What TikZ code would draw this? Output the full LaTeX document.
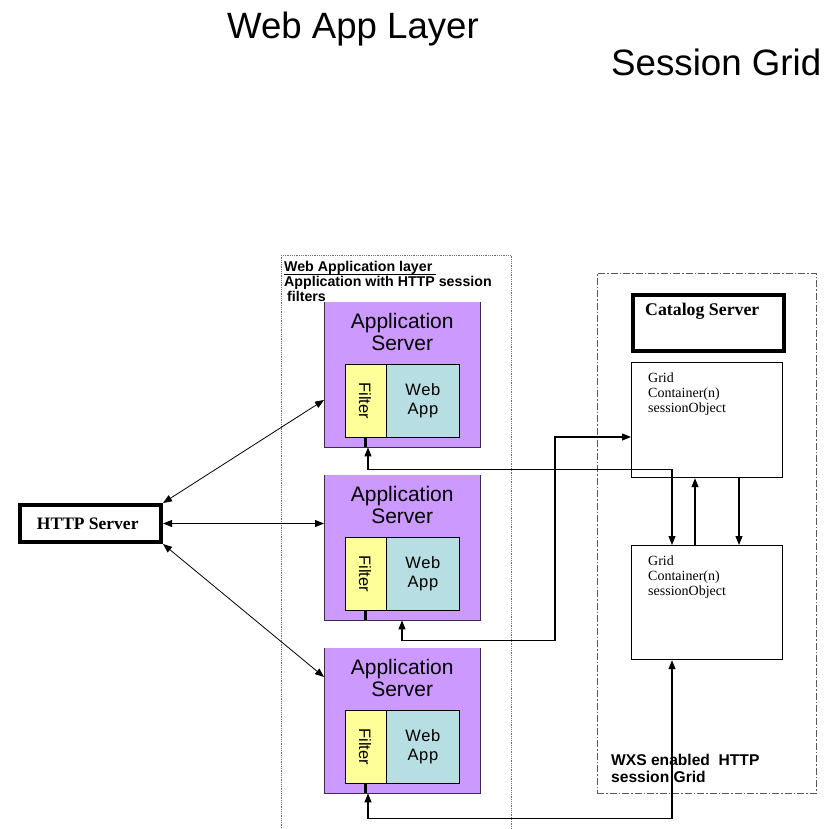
\documentclass[tikz,border=0pt]{standalone}
\usepackage{fontspec}
\setmainfont{Liberation Serif}
\newfontfamily\arial{Liberation Sans}
\usetikzlibrary{arrows.meta,calc}
\definecolor{srvpurple}{RGB}{204,153,255}
\definecolor{srvedge}{RGB}{60,40,80}
\definecolor{filteryellow}{RGB}{255,255,153}
\definecolor{appteal}{RGB}{183,222,226}
\definecolor{zonegray}{RGB}{110,110,110}
\begin{document}
\begin{tikzpicture}[x=1pt,y=-1pt,
  tip/.tip={Triangle[length=9pt,width=7pt]},
  layerbox/.style={draw=zonegray, line width=0.8pt, dash pattern=on 0.9pt off 0.9pt,
    anchor=north west, inner sep=0},
  gridzone/.style={draw=zonegray!80!black, line width=0.9pt,
    dash pattern=on 7pt off 2pt on 1.5pt off 2pt, anchor=north west, inner sep=0},
  srvbox/.style={fill=srvpurple, minimum width=156pt, minimum height=145pt,
    inner sep=0, anchor=north west},
  srvtext/.style={font=\arial\fontsize{21}{22.5}\selectfont, align=center,
    inner sep=0, anchor=north},
  filterbox/.style={draw, fill=filteryellow, line width=0.8pt, minimum width=41pt,
    minimum height=73pt, inner sep=0, anchor=north west},
  webbox/.style={draw, fill=appteal, line width=0.8pt, minimum width=73pt,
    minimum height=73pt, inner sep=0, anchor=north west,
    font=\arial\fontsize{16.5}{19}\selectfont\addfontfeature{LetterSpace=4}, align=center},
  filtertext/.style={font=\arial\fontsize{16.5}{18}\selectfont, rotate=-90, inner sep=0},
  stub/.style={line width=3pt},
  thickbox/.style={draw, line width=4pt, inner sep=0},
  gridbox/.style={draw, line width=1.2pt, minimum width=151pt, inner sep=0,
    anchor=north west},
  gridtext/.style={font=\fontsize{14}{15.2}\selectfont, align=left, inner sep=0,
    anchor=north west},
  twoway/.style={line width=0.8pt, {tip}-{tip}},
  link/.style={line width=1.1pt, {tip}-{tip}},
  oneway/.style={line width=1.1pt, -{tip}}]

\useasboundingbox (0,0) rectangle (832,828);

% headings
\node[anchor=base west, inner sep=0, font=\arial\fontsize{36.6}{40}\selectfont]
  (head1) at (227,38) {Web App Layer};
\node[anchor=base west, inner sep=0, font=\arial\fontsize{36.7}{40}\selectfont]
  (head2) at (611,75) {Session Grid};

% zones
\node[layerbox, minimum width=230pt, minimum height=590pt] (wl) at (281,255) {};
\node[anchor=north west, inner sep=0, align=left,
  font=\arial\bfseries\fontsize{14.2}{15}\selectfont] (wltext) at (284,261.5)
  {Web Application layer\\Application with HTTP session\\\hspace*{3pt}filters};
\draw[line width=0.9pt] ($(wltext.north west)+(0,13)$) -- ++(152,0);

\node[gridzone, minimum width=219pt, minimum height=520pt] (sg) at (597,273) {};
\node[anchor=north west, inner sep=0, align=left,
  font=\arial\bfseries\fontsize{15.6}{16.7}\selectfont] (sgtext) at (611,754)
  {WXS enabled\ \ HTTP\\session Grid};

% HTTP server
\node[thickbox, minimum width=141.5pt, minimum height=37pt,
  font=\bfseries\fontsize{17.5}{20}\selectfont] (h) at (90.25,523.5)
  {\hspace*{-5pt}HTTP Server};

% application servers
\foreach \i/\y in {1/302,2/475,3/648}{
  \node[srvbox] (s\i) at (324,\y) {};
  \draw[srvedge, line width=0.8pt] (s\i.north west) -- (s\i.south west)
    -- (s\i.south east) -- (s\i.north east);
  \node[srvtext] (st\i) at ($(s\i.north)+(0,10.7)$) {Application\\Server};
  \node[filterbox] (f\i) at ($(s\i.north west)+(21,62)$) {};
  \node[filtertext] (ft\i) at ($(f\i.center)+(-1,0)$) {Filter};
  \node[webbox] (w\i) at ($(s\i.north west)+(62,62)$) {Web\\App};
  \draw[stub] (f\i.south) -- (f\i.south |- s\i.south);
}

% catalog server and grid containers
\node[thickbox, minimum width=151.5pt, minimum height=56pt, anchor=north west]
  (cat) at (630.5,293) {};
\node[anchor=west, inner sep=0, font=\bfseries\fontsize{17.8}{20}\selectfont]
  (cattext) at (645,311) {Catalog Server};

\node[gridbox, minimum height=115pt] (g1) at (631,362) {};
\node[gridtext] (g1text) at ($(g1.north west)+(17,10.5)$)
  {Grid\\Container(n)\\sessionObject};
\node[gridbox, minimum height=114pt] (g2) at (631,545) {};
\node[gridtext] (g2text) at ($(g2.north west)+(17,10.5)$)
  {Grid\\Container(n)\\sessionObject};

% HTTP server to application servers
\draw[twoway] (h.north east) -- ($(s1.north west)+(0,98)$);
\draw[twoway] (h.east) -- (h.east -| s2.west);
\draw[twoway] (h.south east) -- ($(s3.north west)+(0,29)$);

% session filters to grid containers
\draw[link] ($(s1.south west)+(44,0)$) -- ++(0,22) -| ($(g2.north west)+(41,0)$);
\draw[link] ($(s2.south west)+(78,0)$) -- ++(0,20)
  -| ($(g1.north west)+(-76,75)$) -- ($(g1.north west)+(0,75)$);
\draw[link] ($(s3.south west)+(44,0)$) -- ++(0,25) -| ($(g2.south west)+(41,0)$);

% replication between containers
\draw[oneway] ($(g2.north west)+(64,0)$) -- ($(g1.south west)+(64,0)$);
\draw[oneway] ($(g1.south west)+(108,0)$) -- ($(g2.north west)+(108,0)$);

\end{tikzpicture}
\end{document}
